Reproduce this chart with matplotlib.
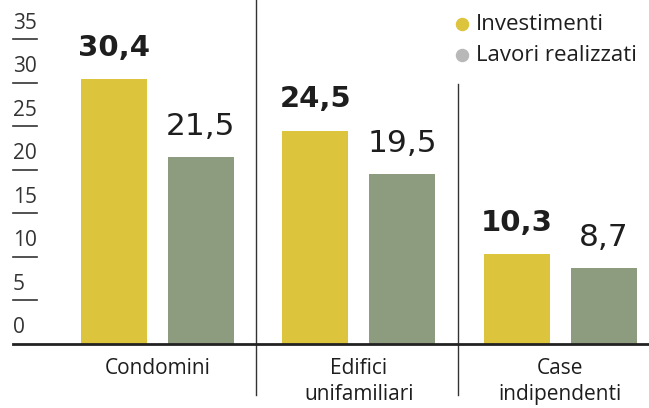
import matplotlib.pyplot as plt
import numpy as np

categories = ["Condomini", "Edifici\nunifamiliari", "Case\nindipendenti"]
investimenti = [30.4, 24.5, 10.3]
lavori = [21.5, 19.5, 8.7]
yticks = [0, 5, 10, 15, 20, 25, 30, 35]

YELLOW = "#dcc43c"
GREEN = "#8d9c7e"
DOT_GREY = "#b8b8b8"
TEXT = "#1e1e1e"

fig = plt.figure(figsize=(6.49, 4.08), dpi=100)
ax = fig.add_axes([0, 0, 1, 1])
ax.set_xlim(-0.78, 2.44)
ax.set_ylim(-7.35, 39.5)
ax.axis("off")

x = np.arange(len(categories))
w = 0.328
off = 0.216
ax.bar(x - off, investimenti, w, color=YELLOW, zorder=2)
ax.bar(x + off, lavori, w, color=GREEN, zorder=2)

# value labels: bold for investments, regular for works done
for xi, v in zip(x - off, investimenti):
    ax.annotate(f"{v:.1f}".replace(".", ","), (xi, v), xytext=(0, 17),
                textcoords="offset points", ha="center", va="baseline",
                fontsize=21, fontweight="bold", color=TEXT, family="DejaVu Sans")
for xi, v in zip(x + off, lavori):
    ax.annotate(f"{v:.1f}".replace(".", ","), (xi, v), xytext=(0, 16),
                textcoords="offset points", ha="center", va="baseline",
                fontsize=22.5, color=TEXT, family="DejaVu Sans")

# baseline and y-axis tick marks with labels sitting above them
x_left = -0.78 + 13 / 201.5
x_tick_end = -0.78 + 37 / 201.5
ax.plot([x_left, 2.44], [0, 0], color="#222222", lw=2, zorder=3)
for t in yticks:
    if t > 0:
        ax.plot([x_left, x_tick_end], [t, t], color="#333333", lw=1.2)
    ax.annotate(str(t), (x_left, t), xytext=(0, 4), textcoords="offset points",
                ha="left", va="bottom", fontsize=15, color="#333333",
                family="Open Sans")

# group dividers
ax.plot([0.49, 0.49], [-5.9, 39.5], color="#333333", lw=1)
ax.plot([1.49, 1.49], [-5.9, 29.8], color="#333333", lw=1)

# category labels
ax.text(0, -2.76, categories[0], ha="center", va="center", fontsize=15,
        color=TEXT, family="Open Sans")
for xi, lab in zip(x[1:], categories[1:]):
    ax.text(xi, -4.3, lab, ha="center", va="center", fontsize=15,
            color=TEXT, family="Open Sans", linespacing=1.3)

# legend
for yy, col, lab in [(0.941, YELLOW, "Investimenti"),
                     (0.865, DOT_GREY, "Lavori realizzati")]:
    ax.scatter([0.712], [yy], s=75, color=col, transform=ax.transAxes,
               clip_on=False)
    ax.text(0.734, yy, lab, transform=ax.transAxes, ha="left", va="center",
            fontsize=16, color=TEXT, family="Open Sans")

fig.savefig("out.png", dpi=100, facecolor="white")
